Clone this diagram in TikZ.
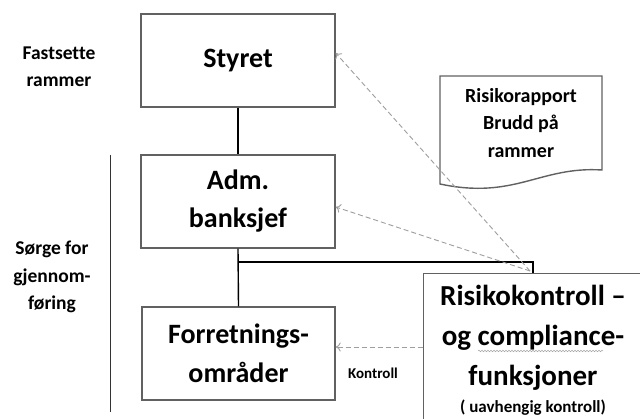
\documentclass[tikz,border=0pt]{standalone}
\usepackage{fontspec}
\setmainfont[Ligatures=NoCommon]{Carlito}
\usetikzlibrary{arrows.meta,decorations.pathmorphing}
\begin{document}
\begin{tikzpicture}[x=1pt,y=-1pt,
  box/.style={draw=black!62,line width=1.4pt,font=\bfseries\fontsize{28}{38}\selectfont,align=center,inner sep=0pt},
  side/.style={font=\bfseries\fontsize{19.5}{27.5}\selectfont,align=center},
  big/.style={font=\bfseries\fontsize{29}{40}\selectfont,anchor=base},
  link/.style={line width=1.4pt,black},
  rep/.style={draw=black!38,line width=0.9pt,dash pattern=on 5pt off 3pt,-{To[length=5pt,width=9pt]}}
]
\useasboundingbox (0,0) rectangle (640,419);
\clip (0,0) rectangle (640,419);
\fill[white] (0,0) rectangle (640,419);
% boxes
\node[box,minimum width=194pt,minimum height=93pt] (styret) at (238,60.5) {Styret};
\node[box,minimum width=194pt,minimum height=93pt] (adm) at (238,201.5) {Adm.\\banksjef};
\node[box,minimum width=193pt,minimum height=93pt,font=\bfseries\fontsize{28}{39}\selectfont] (forr) at (238.5,353.5) {Forretnings-\\områder};
\node[box,minimum width=220pt,minimum height=160pt,anchor=north west] (risk) at (423,273) {};
\node[big] (r1) at (533,306) {Risikokontroll –};
\node[big] (r2) at (533,346) {og compliance-};
\node[big] (r3) at (533,386) {funksjoner};
\node[font=\bfseries\fontsize{17}{20}\selectfont,anchor=base] (uavh) at (533,413) {( uavhengig kontroll)};
\draw[black!35,line width=0.5pt,decorate,decoration={snake,amplitude=0.8pt,segment length=3pt}] (478,351) -- (603,351);
% document
\draw[draw=black!62,line width=1.4pt] (440,76) -- (602,76) -- (602,170)
  .. controls (540,166) and (515,200) .. (440,184) -- cycle;
\node[side,font=\bfseries\fontsize{20}{27.5}\selectfont] (doc) at (521,123) {Risikorapport\\Brudd på\\rammer};
% left labels
\node[side] (fast) at (59,67) {Fastsette\\rammer};
\node[side] (sorge) at (52,277) {Sørge for\\gjennom-\\føring};
\coordinate (vtop) at (110,155);
\coordinate (vbot) at (110,412);
\draw[line width=1pt,black!80] (vtop) -- (vbot);
% connectors
\draw[link] (styret.south) -- (adm.north);
\draw[link] (adm.south) -- (forr.north);
\coordinate (j) at (238,262);
\draw[link] (j) -| (risk.north -| 533,0);
% dashed arrows
\coordinate (src) at (530,271);
\draw[rep] (src) -- (styret.east |- 0,53);
\draw[rep] (src) -- (adm.east |- 0,207);
\draw[rep] (risk.west |- 0,347) -- (forr.east |- 0,347);
\node[font=\bfseries\fontsize{15}{18}\selectfont] (kontroll) at (373,373) {Kontroll};
\end{tikzpicture}
\end{document}
